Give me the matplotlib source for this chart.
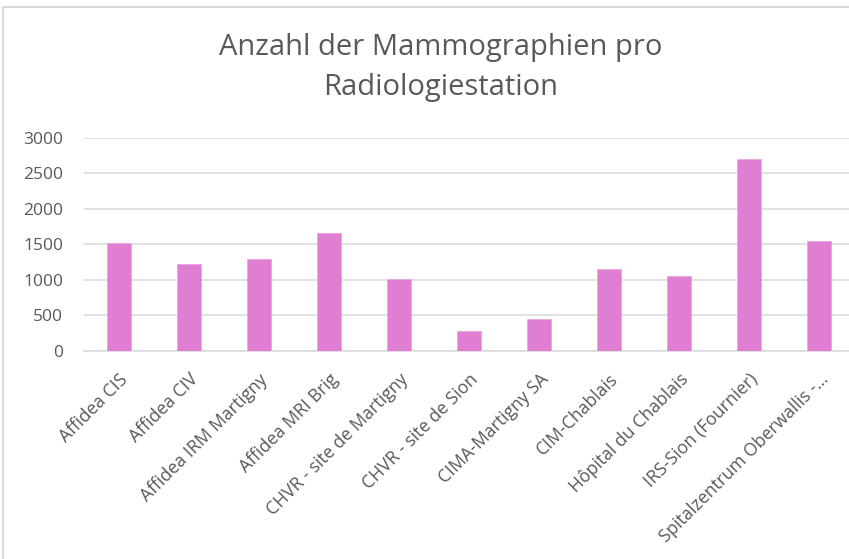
import matplotlib
matplotlib.use("Agg")
import matplotlib.pyplot as plt
from matplotlib.lines import Line2D

categories = ["Affidea CIS", "Affidea CIV", "Affidea IRM Martigny", "Affidea MRI Brig",
              "CHVR - site de Martigny", "CHVR - site de Sion", "CIMA-Martigny SA",
              "CIM-Chablais", "Hôpital du Chablais", "IRS-Sion (Fournier)",
              "Spitalzentrum Oberwallis -..."]
values = [1525, 1220, 1290, 1660, 1010, 280, 450, 1150, 1050, 2705, 1545]
yticks = [0, 500, 1000, 1500, 2000, 2500, 3000]
title = "Anzahl der Mammographien pro\nRadiologiestation"

plt.rcParams['font.family'] = ['Open Sans', 'DejaVu Sans']
W, H = 849, 559
fig = plt.figure(figsize=(W / 100, H / 100), dpi=100)

left, right, bottom, top = 84, 854, 351, 137.7
ax = fig.add_axes([left / W, 1 - bottom / H, (right - left) / W, (bottom - top) / H])
x = list(range(len(categories)))
ax.bar(x, values, width=0.34, color="#E07ED3", edgecolor="#EBA6E2", linewidth=0.6, zorder=3)
ax.set_xlim(-0.5, len(categories) - 0.5)
ax.set_ylim(0, 3000)
ax.set_yticks(yticks)
ax.set_yticklabels([str(v) for v in yticks])
ax.yaxis.grid(True, color="#D9D9D9", linewidth=1.1, zorder=0)
for s in ["top", "right", "left"]:
    ax.spines[s].set_visible(False)
ax.spines["bottom"].set_color("#D9D9D9")
ax.spines["bottom"].set_linewidth(1.1)
ax.tick_params(axis="y", length=0, pad=15, labelsize=12.5, labelcolor="#595959")
ax.tick_params(axis="x", length=0, pad=14, labelsize=12.7, labelcolor="#595959")
ax.set_xticks(x)
ax.set_xticklabels(categories, rotation=45, ha="right", rotation_mode="anchor")

fig.text(441 / W, 1 - 68 / H, title, ha="center", va="center", fontsize=21,
         color="#595959", linespacing=1.5)

# chart area border (cropped at right and bottom)
fig.add_artist(Line2D([3 / W, 3 / W], [0, 1 - 7 / H], transform=fig.transFigure,
                      color="#D9D9D9", linewidth=1.5))
fig.add_artist(Line2D([3 / W, 1], [1 - 7 / H, 1 - 7 / H], transform=fig.transFigure,
                      color="#D9D9D9", linewidth=1.5))

fig.savefig("out.png", dpi=100)
